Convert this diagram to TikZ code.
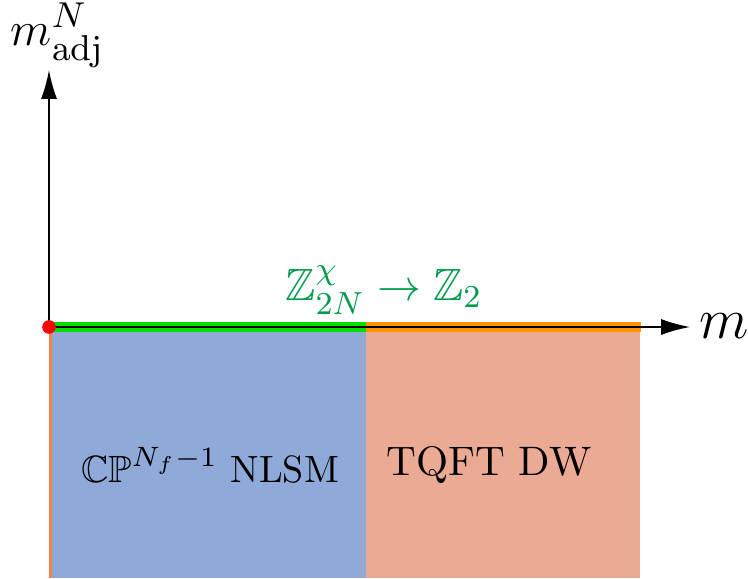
\documentclass[tikz,border=0pt]{standalone}
\usepackage{amsmath,amssymb}
\usetikzlibrary{arrows.meta}
\definecolor{regblue}{RGB}{143,170,216}
\definecolor{regsalmon}{RGB}{235,170,148}
\definecolor{edgeorange}{RGB}{247,128,70}
\definecolor{bandgreen}{RGB}{0,225,0}
\definecolor{bandorange}{RGB}{255,150,0}
\definecolor{labgreen}{RGB}{0,155,75}
\tikzset{
  axis/.style={line width=0.45pt,-{Latex[length=7.2pt,width=4pt]}},
  band/.style={line width=2.3pt,line cap=butt},
  inner/.style={line width=0.5pt,black},
  lab/.style={inner sep=0pt},
}
\begin{document}
\begin{tikzpicture}[x=0.25pt,y=-0.25pt]
\useasboundingbox (0,0) rectangle (748,578);
\coordinate (O) at (49,327);
\coordinate (yend) at (49,70);
\coordinate (ybot) at (50.5,578);
\coordinate (Oe) at (50.5,327);
\coordinate (xend) at (690,327);
\coordinate (M) at (366,327);
\coordinate (R) at (641,327);
\fill[regblue] (49,327) rectangle (366,578);
\fill[regsalmon] (366,327) rectangle (640,578);
\draw[edgeorange,line width=0.8pt] (Oe) -- (ybot);
\draw[axis] (O) -- (yend);
\draw[axis] (O) -- (xend);
\draw[band,bandgreen] (O) -- (M);
\draw[band,bandorange] (M) -- (R);
\draw[inner] (O) -- (R);
\fill[red] (O) circle[radius=6.8];
\node[lab,anchor=base west] (ylab) at (10,45) {\fontsize{12.5}{15}\selectfont $m_{\mathrm{adj}}^N$};
\node[lab,anchor=base west] (xlab) at (699,338) {\fontsize{13.8}{16}\selectfont $m$};
\node[lab,text=labgreen] (sym) at (384,290) {\fontsize{11.3}{13}\selectfont $\mathbb{Z}_{2N}^{\chi}\to\mathbb{Z}_2$};
\node[lab] (cp) at (210,465) {\fontsize{9.5}{12}\selectfont $\mathbb{CP}^{N_f-1}$ NLSM};
\node[lab] (tq) at (489,465) {\fontsize{10.3}{12}\selectfont TQFT DW};
\end{tikzpicture}
\end{document}
